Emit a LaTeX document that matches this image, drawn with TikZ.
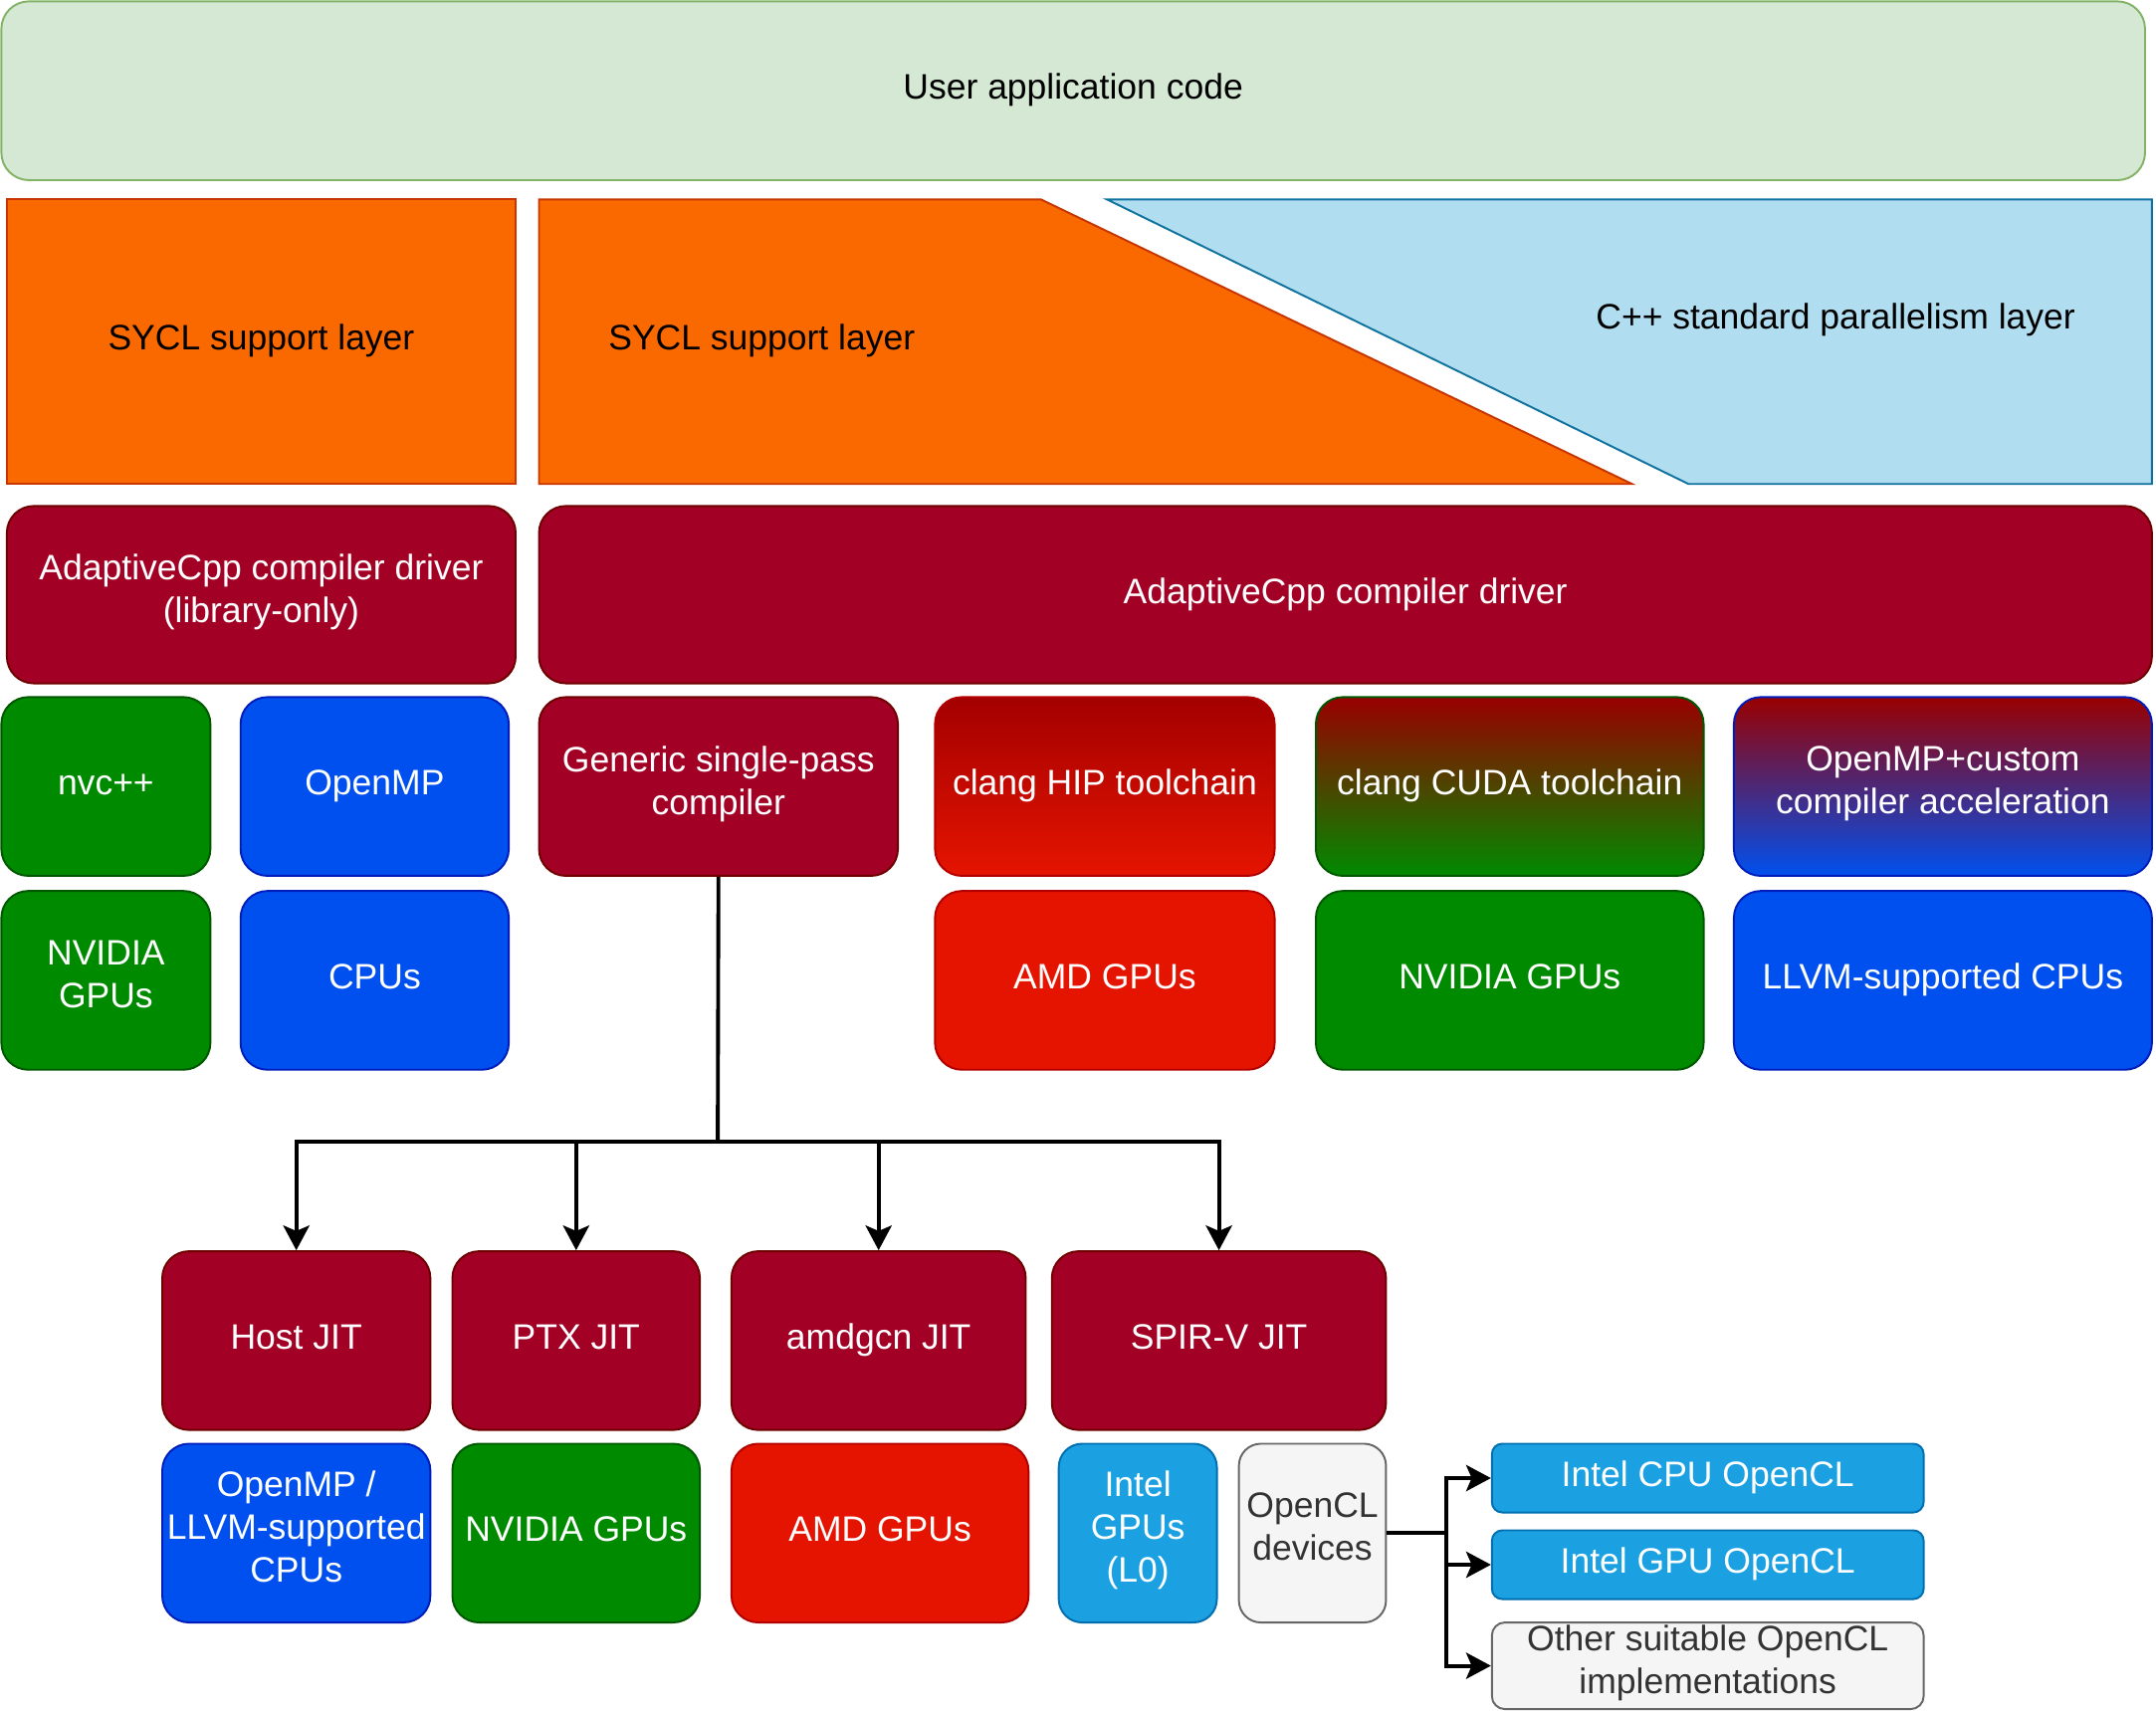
\documentclass[tikz,border=0pt]{standalone}
\usepackage{fontspec}
\setmainfont{Liberation Sans}
\usetikzlibrary{arrows.meta}
\definecolor{ugfill}{HTML}{D5E8D4}\definecolor{ugline}{HTML}{82B366}
\definecolor{orfill}{HTML}{FA6800}\definecolor{orline}{HTML}{C73500}
\definecolor{lbfill}{HTML}{B1DDF0}\definecolor{lbline}{HTML}{10739E}
\definecolor{drfill}{HTML}{A20025}\definecolor{drline}{HTML}{6F0000}
\definecolor{gnfill}{HTML}{008A00}\definecolor{gnline}{HTML}{005700}
\definecolor{blfill}{HTML}{0050EF}\definecolor{blline}{HTML}{001DBC}
\definecolor{rdfill}{HTML}{E51400}\definecolor{rdline}{HTML}{B20000}
\definecolor{cyfill}{HTML}{1BA1E2}\definecolor{cyline}{HTML}{006EAF}
\definecolor{gyfill}{HTML}{F5F5F5}\definecolor{gyline}{HTML}{666666}\definecolor{gytext}{HTML}{333333}
\definecolor{gradtop}{HTML}{990000}\definecolor{hiptop}{HTML}{A30000}
\newcommand\bnode[7]{%
  \pgfmathsetmacro\bxcx{(#3+#5)/2}\pgfmathsetmacro\bxcy{(#4+#6)/2}%
  \pgfmathsetmacro\bxw{(#5-#3)*0.5}\pgfmathsetmacro\bxh{(#6-#4)*0.5}%
  \node[#1, minimum width=\bxw pt, minimum height=\bxh pt] (#2) at (\bxcx,\bxcy) {#7};}
\begin{document}
\begin{tikzpicture}[x=0.5pt,y=-0.5pt,
  every node/.style={font=\fontsize{12.85pt}{15.6pt}\selectfont, align=center, inner sep=0pt,
    execute at begin node=\strut, execute at end node=\strut},
  box/.style={draw, line width=0.7pt, rounded corners=9.75pt, text=white},
  sbox/.style={box, rounded corners=3.75pt},
  ug/.style={box, fill=ugfill, draw=ugline, text=black, rounded corners=10pt},
  dr/.style={box, fill=drfill, draw=drline},
  gn/.style={box, fill=gnfill, draw=gnline},
  bl/.style={box, fill=blfill, draw=blline},
  rd/.style={box, fill=rdfill, draw=rdline},
  arr/.style={line width=1.4pt, -{Stealth[length=9pt, width=9.5pt, inset=2pt]}},
  ln/.style={line width=1.4pt}]
\useasboundingbox (0,0) rectangle (1568,1244);

% top layer
\bnode{ug}{user}{1}{1}{1560}{131}{User application code}

% SYCL / C++ layers
\bnode{draw=orline, fill=orfill, line width=0.7pt}{syclL}{5}{145}{375}{352}{SYCL support layer}
\draw[draw=orline, fill=orfill, line width=0.7pt] (392,145) -- (757,145) -- (1187,352) -- (392,352) -- cycle;
\node (syclR) at (554,248) {SYCL support layer};
\draw[draw=lbline, fill=lbfill, line width=0.7pt] (805,145) -- (1565,145) -- (1565,352) -- (1228,352) -- cycle;
\node (cpppar) at (1335,233) {C++ standard parallelism layer};

% drivers
\bnode{dr}{drvL}{5}{368}{375}{497}{AdaptiveCpp compiler driver\\(library-only)}
\bnode{dr}{drvR}{392}{368}{1565}{497}{AdaptiveCpp compiler driver}

% row 1
\bnode{gn}{nvcpp}{1}{507}{153}{637}{nvc++}
\bnode{bl}{omp}{175}{507}{370}{637}{OpenMP}
\bnode{dr}{gen}{392}{507}{653}{637}{Generic single-pass\\compiler}
\bnode{box, draw=rdline, top color=hiptop, bottom color=rdfill}{hip}{680}{507}{927}{637}{clang HIP toolchain}
\bnode{box, draw=gnline, top color=gradtop, bottom color=gnfill}{cuda}{957}{507}{1239}{637}{clang CUDA toolchain}
\bnode{box, draw=blline, top color=gradtop, bottom color=blfill}{ompc}{1261}{507}{1565}{637}{OpenMP+custom\\compiler acceleration}

% row 2
\bnode{gn}{nvgpuL}{1}{648}{153}{778}{NVIDIA\\GPUs}
\bnode{bl}{cpus}{175}{648}{370}{778}{CPUs}
\bnode{rd}{amdR}{680}{648}{927}{778}{AMD GPUs}
\bnode{gn}{nvgpuR}{957}{648}{1239}{778}{NVIDIA GPUs}
\bnode{bl}{llvmcpu}{1261}{648}{1565}{778}{LLVM-supported CPUs}

% JIT row
\bnode{dr}{hostjit}{118}{910}{313}{1040}{Host JIT}
\bnode{dr}{ptxjit}{329}{910}{509}{1040}{PTX JIT}
\bnode{dr}{amdjit}{532}{910}{746}{1040}{amdgcn JIT}
\bnode{dr}{spvjit}{765}{910}{1008}{1040}{SPIR-V JIT}

% targets row
\bnode{bl}{ompllvm}{118}{1050}{313}{1180}{OpenMP /\\LLVM-supported\\CPUs}
\bnode{gn}{nvjit}{329}{1050}{509}{1180}{NVIDIA GPUs}
\bnode{rd}{amdjitg}{532}{1050}{748}{1180}{AMD GPUs}
\bnode{box, fill=cyfill, draw=cyline, rounded corners=8.5pt}{intelgpu}{770}{1050}{885}{1180}{Intel\\GPUs\\(L0)}
\bnode{box, fill=gyfill, draw=gyline, text=gytext, rounded corners=8pt}{ocl}{901}{1050}{1008}{1180}{OpenCL\\devices}

\bnode{sbox, fill=cyfill, draw=cyline}{icpu}{1085}{1050}{1399}{1100}{Intel CPU OpenCL}
\bnode{sbox, fill=cyfill, draw=cyline}{igpu}{1085}{1113}{1399}{1163}{Intel GPU OpenCL}
\bnode{sbox, fill=gyfill, draw=gyline, text=gytext, rounded corners=4.7pt}{other}{1085}{1180}{1399}{1243}{Other suitable OpenCL\\implementations}

% connectors
\coordinate (gsplit) at (522,830);
\draw[ln] (gen.south) -- (gsplit);
\draw[arr] (gsplit) -| (hostjit.north);
\draw[arr] (gsplit) -| (ptxjit.north);
\draw[arr] (gsplit) -| (amdjit.north);
\draw[arr] (gsplit) -| (spvjit.north);

\coordinate (osplit) at (1052,1115);
\draw[ln] (ocl.east |- osplit) -- (osplit);
\draw[arr] (osplit) |- (icpu.west);
\draw[arr] (osplit) |- (igpu.west);
\draw[arr] (osplit) |- (other.west);
\end{tikzpicture}
\end{document}
